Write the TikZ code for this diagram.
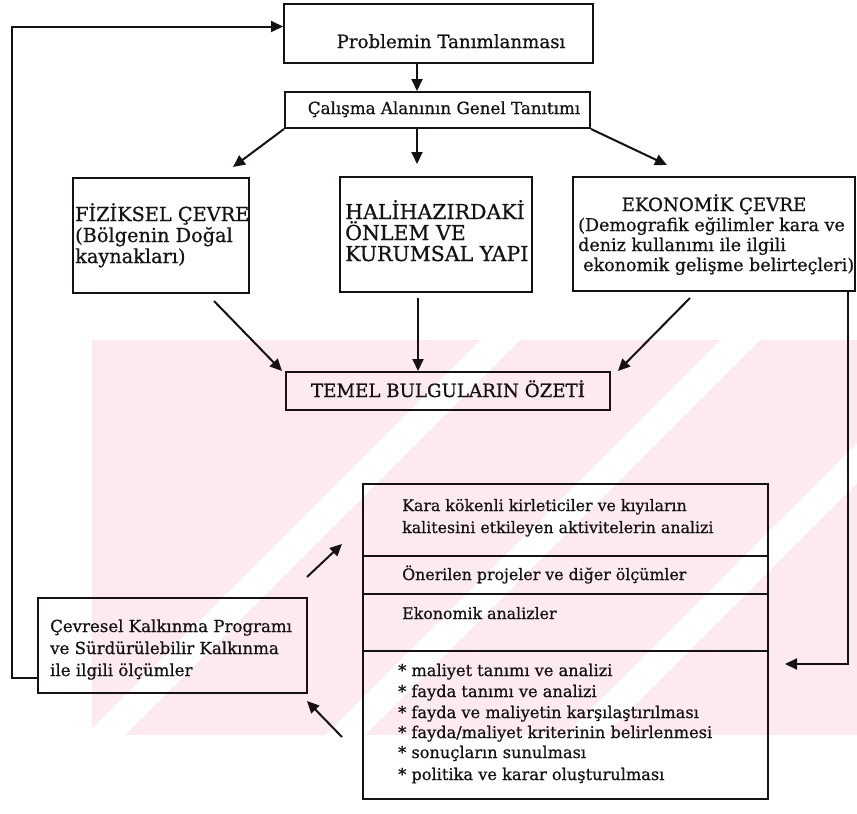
\documentclass[tikz,border=0pt]{standalone}
\usepackage{fontspec}
\setmainfont{DejaVu Serif}[FakeBold=0.7]
\usetikzlibrary{arrows.meta,calc}
\definecolor{inkc}{RGB}{22,18,18}
\definecolor{wmark}{RGB}{252,234,238}
\begin{document}
\begin{tikzpicture}[x=1pt,y=-1pt,
  box/.style={draw=inkc,line width=2pt,inner sep=0pt,rectangle},
  lbl/.style={inner sep=0pt,anchor=base west,text=inkc},
  clbl/.style={inner sep=0pt,anchor=base,text=inkc},
  txtfiz/.style={font=\fontsize{19.3}{21}\selectfont},
  txthal/.style={font=\fontsize{20.5}{21}\selectfont},
  txtbig/.style={font=\fontsize{18.2}{20}\selectfont},
  txteko/.style={font=\fontsize{17.5}{20}\selectfont},
  txtcal/.style={font=\fontsize{16.7}{20}\selectfont},
  txtmed/.style={font=\fontsize{16.6}{19}\selectfont},
  txtsml/.style={font=\fontsize{15.8}{19}\selectfont},
  txtlist/.style={font=\fontsize{16.2}{19}\selectfont},
  ln/.style={draw=inkc,line width=2pt},
  arr/.style={ln,-{Triangle[length=12pt,width=11pt]}}]
\useasboundingbox (0,0) rectangle (857,814);

% faint background band behind the lower part
\fill[wmark] (92,340) rectangle (857,735);
\begin{scope}
  \clip (92,340) rectangle (857,735);
  \foreach \c in {820,1060,1300} {
    \fill[white] (\c-735,735) -- (\c-340,340) -- (\c-300,340) -- (\c-695,735) -- cycle;
  }
\end{scope}

% boxes
\node[box,minimum width=309,minimum height=59] (prob) at (438.5,33.5) {};
\node[box,minimum width=305,minimum height=36] (cal) at (437.5,110) {};
\node[box,minimum width=176,minimum height=115] (fiz) at (161,235.5) {};
\node[box,minimum width=192,minimum height=115] (hal) at (436,234.5) {};
\node[box,minimum width=282,minimum height=114] (eko) at (714,234) {};
\node[box,minimum width=324,minimum height=38] (temel) at (448,391) {};
\node[box,minimum width=269,minimum height=95] (cev) at (172.5,645.5) {};
\node[box,minimum width=405,minimum height=72] (r1) at (565.5,520) {};
\node[box,minimum width=405,minimum height=38] (r2) at (565.5,575) {};
\node[box,minimum width=405,minimum height=57] (r3) at (565.5,622.5) {};
\node[box,minimum width=405,minimum height=148] (r4) at (565.5,725) {};

% texts
\node[clbl,txtbig] (tprob) at (451,48) {Problemin Tanımlanması};
\node[clbl,txtcal] (tcal) at (444,114) {Çalışma Alanının Genel Tanıtımı};

\node[lbl,txtfiz] (f1) at (75,221) {FİZİKSEL ÇEVRE};
\node[lbl,txtfiz] (f2) at (75,242) {(Bölgenin Doğal};
\node[lbl,txtfiz] (f3) at (75,263) {kaynakları)};

\node[lbl,txthal] (h1) at (345,219) {HALİHAZIRDAKİ};
\node[lbl,txthal] (h2) at (345,240) {ÖNLEM VE};
\node[lbl,txthal] (h3) at (345,261) {KURUMSAL YAPI};

\node[clbl,txtbig] (e1) at (714,211) {EKONOMİK ÇEVRE};
\node[lbl,txteko] (e2) at (578,231) {(Demografik eğilimler kara ve};
\node[lbl,txteko] (e3) at (578,251) {deniz kullanımı ile ilgili};
\node[lbl,txteko] (e4) at (583,271) {ekonomik gelişme belirteçleri)};

\node[clbl,txtbig] (tt) at (448,397) {TEMEL BULGULARIN ÖZETİ};

\node[lbl,txtmed] (c1) at (50,632) {Çevresel Kalkınma Programı};
\node[lbl,txtmed] (c2) at (50,654) {ve Sürdürülebilir Kalkınma};
\node[lbl,txtmed] (c3) at (50,676) {ile ilgili ölçümler};

\node[lbl,txtsml] (k1) at (402,511) {Kara kökenli kirleticiler ve kıyıların};
\node[lbl,txtsml] (k2) at (402,533) {kalitesini etkileyen aktivitelerin analizi};
\node[lbl,txtsml] (o1) at (402,580) {Önerilen projeler ve diğer ölçümler};
\node[lbl,txtsml] (a1) at (402,619) {Ekonomik analizler};
\node[lbl,txtlist] (b1) at (398,676) {* maliyet tanımı ve analizi};
\node[lbl,txtlist] (b2) at (398,697) {* fayda tanımı ve analizi};
\node[lbl,txtlist] (b3) at (398,718) {* fayda ve maliyetin karşılaştırılması};
\node[lbl,txtlist] (b4) at (398,738) {* fayda/maliyet kriterinin belirlenmesi};
\node[lbl,txtlist] (b5) at (398,758) {* sonuçların sunulması};
\node[lbl,txtlist] (b6) at (398,780) {* politika ve karar oluşturulması};

% connectors
\coordinate (axis) at (417,0);
\draw[arr] (prob.south -| axis) -- (cal.north -| axis);
\draw[arr] (cal.south -| axis) -- ($(hal.north -| axis)+(0,-12)$);
\draw[arr] (cal.south west) -- ($(fiz.north east)+(-17,-10)$);
\draw[arr] (cal.south east) -- ($(eko.north west)+(95,-11)$);

\draw[arr] ($(fiz.south east)+(-36,7)$) -- ($(temel.north west)+(-3,0)$);
\draw[arr] ($(hal.south -| axis)+(1,5)$) -- ($(temel.north -| axis)+(1,0)$);
\draw[arr] ($(eko.south)+(-24,6)$) -- ($(temel.north east)+(7,0)$);

% feedback loops
\coordinate (fbL) at (12,678);
\draw[arr] (cev.west |- fbL) -- (fbL) |- ($(prob.west)+(0,-7)$);
\coordinate (fbR) at (785,664);
\draw[arr] ($(eko.south east)+(-8,0)$) |- (fbR);

% arrows beside the programme box
\draw[arr] ($(cev.north east)+(-1,-20)$) -- ($(r1.south west)+(-20,-13)$);
\draw[arr] ($(r4.west)+(-20,12)$) -- ($(cev.south east)+(-1,7)$);
\end{tikzpicture}
\end{document}
